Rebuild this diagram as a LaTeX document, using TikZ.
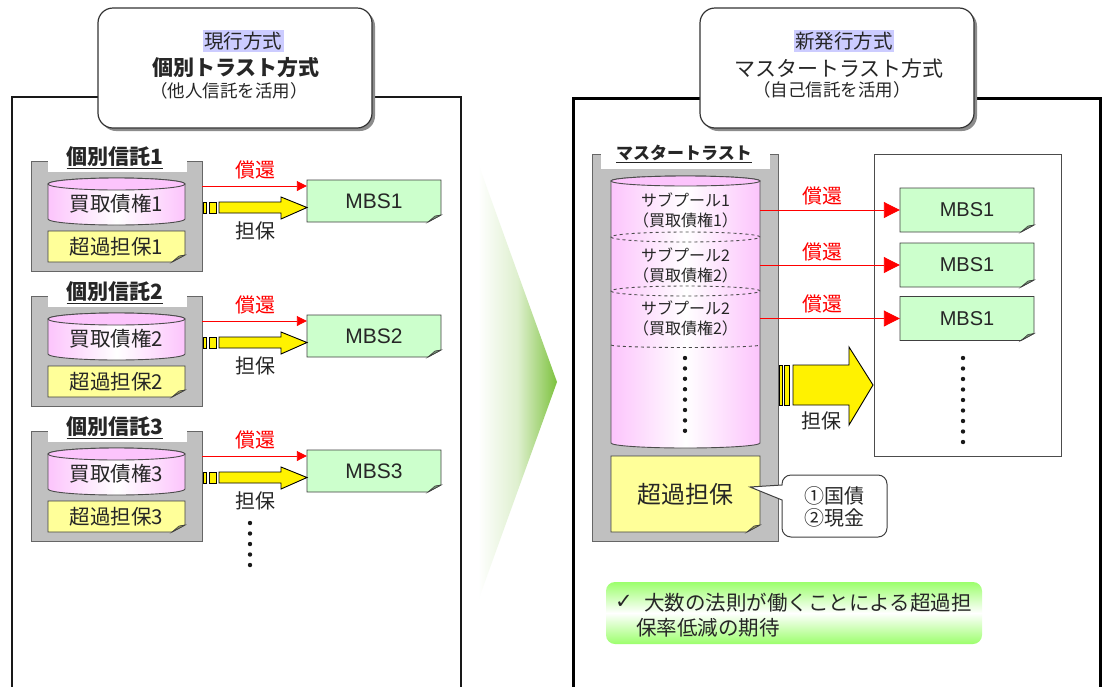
\documentclass[tikz,border=0pt]{standalone}
\usepackage{fontspec}
\setmainfont{Noto Sans CJK JP}
\newfontfamily\dejavu{DejaVu Sans}
\newfontfamily\arialf{Liberation Sans}
\usetikzlibrary{calc,arrows.meta}
\definecolor{grayfill}{HTML}{C0C0C0}
\definecolor{pinkc}{HTML}{FCC4FC}
\definecolor{notey}{HTML}{FFFF99}
\definecolor{mbsg}{HTML}{CCFFCC}
\definecolor{hl}{HTML}{CCCCFF}
\definecolor{ngreen}{HTML}{9CFF6C}
\definecolor{trig}{HTML}{7DC23E}
\newcommand\fsz[1]{\fontsize{#1}{#1}\selectfont}
% name, x1, y1, x2, y2, fill, text, font
\newcommand\paper[8]{%
  \filldraw[draw=black!75, fill=#6, line width=0.9pt] (#2,#3) -- (#4,#3) -- (#4,#5-7) -- (#4-13,#5) -- (#2,#5) -- cycle;
  \filldraw[draw=black!75, fill=#6!60!black, line width=0.6pt] (#4,#5-7) -- (#4-13,#5) -- (#4-6,#5-6) -- cycle;
  \node[inner sep=0, minimum width={#4-#2}, minimum height={#5-#3}, font=#8, text=black!85] (#1) at ({(#2+#4)/2},{(#3+#5)/2}) {#7};}
\begin{document}
\begin{tikzpicture}[x=1pt,y=-1pt,
  container/.style={draw=black!60, fill=grayfill, line width=0.9pt, inner sep=0},
  redarr/.style={draw=red, line width=0.9pt, -{Triangle[length=10pt,width=10pt]}},
  bigred/.style={draw=red, line width=0.9pt, -{Triangle[length=16pt,width=16pt]}},
  yarr/.style={draw=black, fill=yellow, line width=0.9pt},
  titlebox/.style={fill=white, draw=black!80, line width=1.2pt, rounded corners=15pt},
  shadowbox/.style={fill=black!45, rounded corners=15pt},
  cyl/.style={left color=pinkc, right color=pinkc, middle color=white, draw=black!70, line width=0.9pt},
  lbl/.style={inner sep=0, font=\fsz{20}},
  txt/.style={inner sep=0, text=black!85}]
\useasboundingbox (0,0) rectangle (1103,686);
\fill[white] (0,0) rectangle (1103,686);

% ---------- panels ----------
\draw[line width=2pt, black!90] (12,700) -- (12,97) -- (461,97) -- (461,700);
\draw[line width=3pt, black] (573,700) -- (573,98) -- (1100,98) -- (1100,700);

% ---------- title boxes ----------
\fill[shadowbox] (101,11) rectangle (375,131);
\draw[titlebox] (98,8) rectangle (372,128);
\node[txt, fill=hl, inner sep=1.5pt, font=\fsz{19.5}] (h1) at (243,41) {現行方式};
\node[txt, font=\bfseries\fsz{21}] (t1) at (236,68) {個別トラスト方式};
\node[txt, font=\fsz{17.5}] (s1) at (229,91) {（他人信託を活用）};

\fill[shadowbox] (703,11) rectangle (977,131);
\draw[titlebox] (700,8) rectangle (974,128);
\node[txt, fill=hl, inner sep=1.5pt, font=\fsz{19.5}] (h2) at (844,41) {新発行方式};
\node[txt, font=\fsz{21}] (t2) at (839,69) {マスタートラスト方式};
\node[txt, font=\fsz{17.5}] (s2) at (832,90) {（自己信託を活用）};

% ---------- left groups ----------
\foreach \i/\d in {1/0,2/135,3/270}{
  \node[container, minimum width=171, minimum height=110] (tr\i) at (116.5,216+\d) {};
  \fill[white] (48,146+\d) rectangle (187,172+\d);
  \node[txt, font=\bfseries\fsz{21}] (gt\i) at (115,158+\d) {\underline{個別信託\i}};
  \shade[cyl] (48,184+\d) -- (48,219+\d) arc[start angle=180,end angle=360,x radius=68.5pt,y radius=6pt] -- (185,184+\d) arc[start angle=0,end angle=180,x radius=68.5pt,y radius=6pt] -- cycle;
  \filldraw[fill=pinkc, draw=black!70, line width=0.9pt] (116.5,184+\d) ellipse[x radius=68.5pt,y radius=6pt];
  \node[txt, minimum width=137, minimum height=35, font=\fsz{20.5}] (cy\i) at (116.5,204+\d) {買取債権\i};
  \paper{note\i}{48}{231+\d}{185}{262+\d}{notey}{超過担保\i}{\fsz{20.5}}
  \paper{m\i}{307}{180+\d}{441}{222+\d}{mbsg}{\arialf MBS\i}{\fsz{21}}
  \draw[redarr] ([yshift=30pt]tr\i.east) -- ([yshift=15pt]m\i.west);
  \filldraw[yarr] (203,202+\d) rectangle (206,213+\d);
  \filldraw[yarr] (209,202+\d) rectangle (216,213+\d);
  \filldraw[yarr] (219,202+\d) -- (281,202+\d) -- (281,197+\d) -- (307,207.5+\d) -- (281,219+\d) -- (281,213+\d) -- (219,213+\d) -- cycle;
  \node[lbl, text=red] (rl\i) at (255,170+\d) {償還};
  \node[lbl, text=black!85] (cl\i) at (255,231+\d) {担保};
}
\foreach \k in {0,...,4} \fill[black!90] (250,523+10.5*\k) circle (2.2pt);

% ---------- central gradient chevron ----------
\shade[left color=white, right color=trig, middle color=white!75!trig] (478,163) -- (557,382) -- (478,601) -- cycle;

% ---------- master trust ----------
\node[container, minimum width=186, minimum height=387] (mt) at (685,347.5) {};
\fill[white] (601,140) rectangle (770,169);
\node[txt, font=\bfseries\fsz{17}] (mtt) at (684,154) {\underline{マスタートラスト}};
\shade[cyl] (611,181) -- (611,443) arc[start angle=180,end angle=360,x radius=74.5pt,y radius=5pt] -- (760,181) arc[start angle=0,end angle=180,x radius=74.5pt,y radius=5pt] -- cycle;
\filldraw[fill=pinkc, draw=black!70, line width=0.9pt] (685.5,181) ellipse[x radius=74.5pt,y radius=5pt];
\draw[dashed, black!70, line width=0.9pt] (685.5,237) ellipse[x radius=74.5pt,y radius=5pt];
\draw[dashed, black!70, line width=0.9pt] (685.5,291) ellipse[x radius=74.5pt,y radius=5pt];
\draw[dashed, black!70, line width=0.9pt] (611,345) arc[start angle=180,end angle=360,x radius=74.5pt,y radius=2.5pt];
\node[txt, minimum width=149, minimum height=50, align=center, font=\fsz{16}] (sp1) at (685.5,210) {サブプール1\\[4pt]（買取債権1）};
\node[txt, minimum width=149, minimum height=50, align=center, font=\fsz{16}] (sp2) at (685.5,265) {サブプール2\\[4pt]（買取債権2）};
\node[txt, minimum width=149, minimum height=50, align=center, font=\fsz{16}] (sp3) at (685.5,318.5) {サブプール2\\[4pt]（買取債権2）};
\foreach \k in {0,...,7} \fill[black!90] (685,358+10.4*\k) circle (2.2pt);
\paper{ob}{611}{456}{760}{532}{notey}{超過担保}{\fsz{24}}

% callout
\filldraw[draw=black!75, fill=white, line width=1pt] (750,487) -- (782,485) [rounded corners=9pt] -- (782,475) -- (887,475) -- (887,537) -- (782,537) [sharp corners] -- (782,500) -- cycle;
\node[txt, align=left, font=\fsz{20}] (cb) at (834,507) {①国債\\[2pt]②現金};

% ---------- MBS frame ----------
\node[draw=black!70, fill=white, line width=1pt, inner sep=0, minimum width=187, minimum height=302] (fr) at (967.5,305) {};
\paper{mm1}{900}{188}{1034}{232}{mbsg}{\arialf MBS1}{\fsz{20}}
\paper{mm2}{900}{243}{1034}{287}{mbsg}{\arialf MBS1}{\fsz{20}}
\paper{mm3}{900}{296.5}{1034}{340.5}{mbsg}{\arialf MBS1}{\fsz{20}}
\foreach \k in {0,...,8} \fill[black!90] (963,358+10.5*\k) circle (2.2pt);
\draw[bigred] (sp1.east) -- (mm1.west);
\draw[bigred] (sp2.east) -- (mm2.west);
\draw[bigred] (sp3.east) -- (mm3.west);
\node[lbl, text=red] (rr1) at (822,196) {償還};
\node[lbl, text=red] (rr2) at (822,252) {償還};
\node[lbl, text=red] (rr3) at (822,304) {償還};

% big yellow arrow
\filldraw[yarr] (779,365) rectangle (782,405);
\filldraw[yarr] (784,365) rectangle (789,405);
\filldraw[yarr] (793,365) -- (849,365) -- (849,347) -- (873,385) -- (849,425) -- (849,405) -- (793,405) -- cycle;
\node[lbl, text=black!85] (cr) at (821,421) {担保};

% ---------- green note ----------
\shade[rounded corners=9pt, top color=ngreen, bottom color=ngreen, middle color=white] (606,582) rectangle (982,644);
\node[txt, anchor=west, font=\dejavu\bfseries\fsz{21}] (ck) at (615,602) {✓};
\node[txt, anchor=west, font=\fsz{20.5}] (g1) at (644,603) {大数の法則が働くことによる超過担};
\node[txt, anchor=west, font=\fsz{20.5}] (g2) at (636,628) {保率低減の期待};
\end{tikzpicture}
\end{document}
